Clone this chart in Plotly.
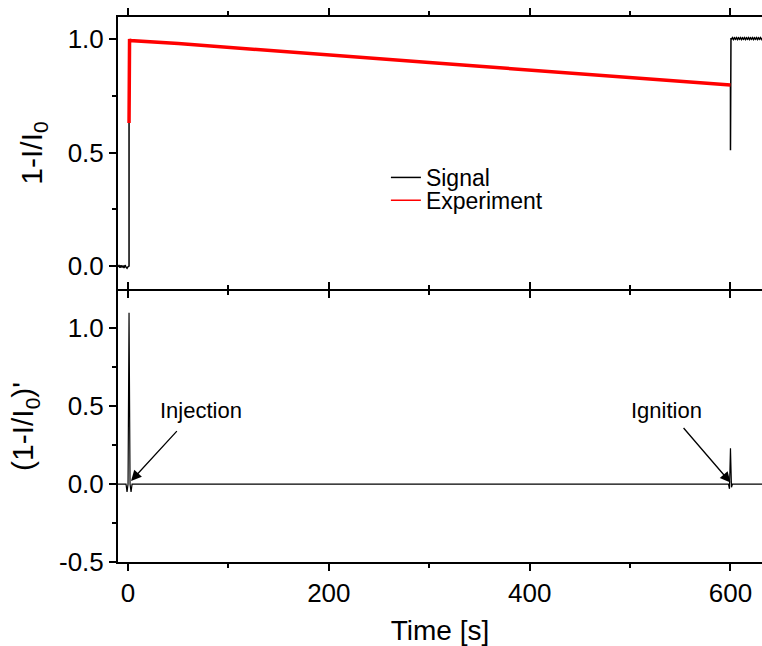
import plotly.graph_objects as go

# ---- data ----
sig_x = [-10, -9, -8, -7, -6, -5, -4, -3, -2, -1, 0, 1, 1, 2, 50, 100, 150, 200, 250, 300, 350,
         400, 450, 500, 550, 600, 600, 600.5, 601, 602, 603, 604, 605, 606, 607, 608, 609, 610,
         611, 612, 613, 614, 615, 616, 617, 618, 619, 620, 621, 622, 623, 624, 625, 626, 627,
         628, 629, 630, 631, 632]
sig_y = [-0.004, 0.004, -0.008, 0.003, -0.006, 0.002, -0.009, 0.004, -0.005, -0.010, -0.003,
         0.0, 0.63, 0.993, 0.980, 0.964, 0.947, 0.930, 0.914, 0.897, 0.880, 0.863, 0.846,
         0.829, 0.812, 0.797, 0.51, 1.004, 0.999, 1.006, 0.998, 1.005, 0.999, 1.006, 0.998,
         1.005, 0.999, 1.006, 0.998, 1.005, 0.999, 1.006, 0.998, 1.005, 0.999, 1.006, 0.998,
         1.005, 0.999, 1.006, 0.998, 1.005, 0.999, 1.006, 0.998, 1.005, 0.999, 1.006, 0.998,
         1.004]

exp_x = [1, 1.5, 2, 50, 100, 150, 200, 250, 300, 350, 400, 450, 500, 550, 600]
exp_y = [0.63, 1.0, 0.993, 0.980, 0.964, 0.947, 0.930, 0.914, 0.897, 0.880, 0.863, 0.846,
         0.829, 0.812, 0.797]

der_x = [-10, -2, -1, 0, 1, 2, 3, 4, 6, 100, 200, 300, 400, 500, 598, 599, 600, 601, 602, 632]
der_y = [0.0, 0.0, -0.05, 0.0, 1.10, 0.0, -0.05, 0.0, 0.0, 0.0, 0.0, 0.0, 0.0, 0.0, 0.0,
         -0.03, 0.23, -0.02, 0.0, 0.0]

x_ticks = [0, 200, 400, 600]
y1_ticks = [0.0, 0.5, 1.0]
y1_text = ["0.0", "0.5", "1.0"]
y2_ticks = [-0.5, 0.0, 0.5, 1.0]
y2_text = ["-0.5", "0.0", "0.5", "1.0"]

notes = ["Injection", "Ignition"]
note_xy = [(73, 0.47), (536, 0.47)]
arrow_tail = [(50, 0.35), (552, 0.37)]
arrow_tip = [(3, 0.02), (600, 0.01)]

FONT = "Liberation Sans, Arial, sans-serif"

fig = go.Figure()
fig.add_trace(go.Scatter(x=sig_x, y=sig_y, mode="lines", name="Signal", showlegend=False,
                         line=dict(color="black", width=1.5), xaxis="x", yaxis="y"))
fig.add_trace(go.Scatter(x=exp_x, y=exp_y, mode="lines", name="Experiment", showlegend=False,
                         line=dict(color="#ff0000", width=3.5), xaxis="x", yaxis="y"))
# legend entries (thin line samples as in the reference)
fig.add_trace(go.Scatter(x=[None], y=[None], mode="lines", name="Signal", legend="legend",
                         line=dict(color="black", width=1.5), xaxis="x", yaxis="y"))
fig.add_trace(go.Scatter(x=[None], y=[None], mode="lines", name="Experiment", legend="legend2",
                         line=dict(color="#ff0000", width=1.5), xaxis="x", yaxis="y"))
fig.add_trace(go.Scatter(x=der_x, y=der_y, mode="lines", name="Derivative", showlegend=False,
                         line=dict(color="black", width=1.2), xaxis="x2", yaxis="y2"))

axis_common = dict(showline=True, linecolor="black", linewidth=2, ticks="outside",
                   tickwidth=2, ticklen=7, tickcolor="black", showgrid=False,
                   zeroline=False, tickfont=dict(family=FONT, size=26, color="black"))
minor_x = dict(dtick=100, tick0=0, ticks="outside", ticklen=4, tickwidth=2, tickcolor="black")
minor_y = dict(dtick=0.25, tick0=0, ticks="outside", ticklen=4, tickwidth=2, tickcolor="black")

gap = 2 / 545.0
fig.update_layout(
    width=762, height=646,
    margin=dict(l=118, r=0, t=17, b=84),
    paper_bgcolor="white", plot_bgcolor="white",
    font=dict(family=FONT, color="black"),
    xaxis=dict(domain=[0, 1], range=[-10, 631.4], anchor="y", mirror="ticks",
               showticklabels=False, tickmode="array", tickvals=x_ticks,
               minor=minor_x, **axis_common),
    yaxis=dict(domain=[0.501, 1], range=[-0.101, 1.097], anchor="x",
               tickmode="array", tickvals=y1_ticks, ticktext=y1_text, minor=minor_y,
               title=dict(text="1-I/I<sub>0</sub>", font=dict(family=FONT, size=30),
                          standoff=16),
               **axis_common),
    xaxis2=dict(domain=[0, 1], range=[-10, 631.4], anchor="y2", mirror="ticks",
                tickmode="array", tickvals=x_ticks, minor=minor_x,
                title=dict(text="Time [s]", font=dict(family=FONT, size=28)),
                **axis_common),
    yaxis2=dict(domain=[0, 0.501 - gap], range=[-0.5, 1.24], anchor="x2",
                tickmode="array", tickvals=y2_ticks, ticktext=y2_text, minor=minor_y,
                title=dict(text="(1-I/I<sub>0</sub>)'", font=dict(family=FONT, size=30),
                           standoff=16),
                **axis_common),
    legend=dict(x=0.416, y=0.745, xanchor="left", yanchor="top",
                bgcolor="rgba(0,0,0,0)", font=dict(family=FONT, size=23)),
    legend2=dict(x=0.416, y=0.703, xanchor="left", yanchor="top",
                 bgcolor="rgba(0,0,0,0)", font=dict(family=FONT, size=23)),
    showlegend=True,
)

for txt, (tx, ty), (ax, ay), (hx, hy) in zip(notes, note_xy, arrow_tail, arrow_tip):
    fig.add_annotation(x=tx, y=ty, xref="x2", yref="y2", text=txt, showarrow=False,
                       font=dict(family=FONT, size=22, color="black"))
    fig.add_annotation(x=hx, y=hy, xref="x2", yref="y2", ax=ax, ay=ay, axref="x2",
                       ayref="y2", text="", showarrow=True, arrowhead=2, arrowsize=1.6,
                       arrowwidth=1.3, arrowcolor="black", standoff=0)

fig.write_html("out.html")
